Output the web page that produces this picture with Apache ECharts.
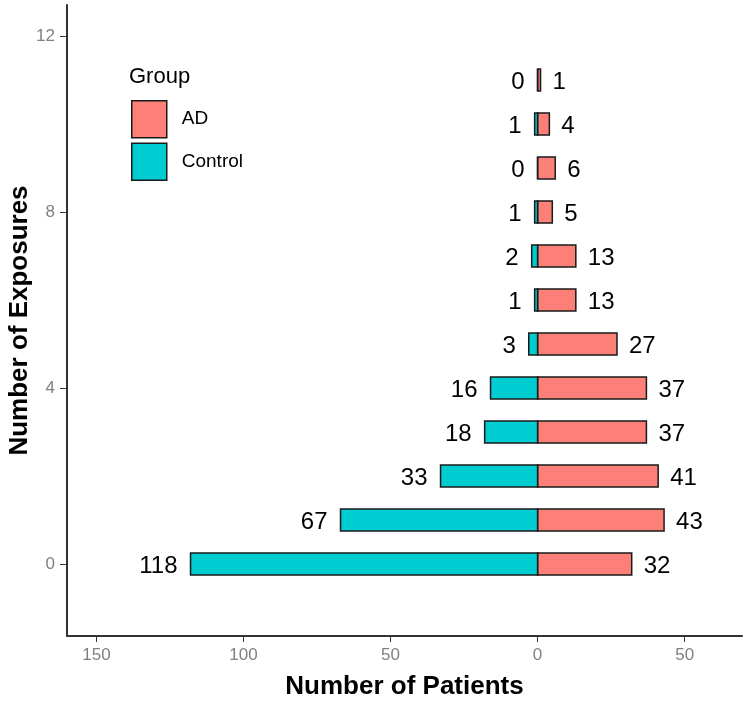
<!DOCTYPE html>
<html>
<head>
<meta charset="utf-8">
<script src="https://cdn.jsdelivr.net/npm/echarts@6/dist/echarts.min.js"></script>
<style>html,body{margin:0;padding:0;background:#fff}#c{width:750px;height:702px}</style>
</head>
<body>
<div id="c"></div>
<script>
var exposures = [0, 1, 2, 3, 4, 5, 6, 7, 8, 9, 10, 11];
var adCounts = [32, 43, 41, 37, 37, 27, 13, 13, 5, 6, 4, 1];
var controlCounts = [118, 67, 33, 18, 16, 3, 1, 2, 1, 0, 1, 0];
var xTicks = [-150, -100, -50, 0, 50];
var yTicks = [0, 4, 8, 12];

var AD_COLOR = '#FC8077';
var CTRL_COLOR = '#00CDD1';
var FONT = 'Liberation Sans, Arial, sans-serif';

function makeRender(side, color) {
  return function (params, api) {
    var y = api.value(0);
    var v = api.value(1);
    var p0 = api.coord([0, y]);
    var p1 = api.coord([v, y]);
    var h = api.size([0, 0.5])[1];
    var x0 = Math.min(p0[0], p1[0]);
    var w = Math.abs(p1[0] - p0[0]);
    var label = String(Math.abs(v));
    var tx = side === 'left' ? p1[0] - 13 : p1[0] + 12;
    return {
      type: 'group',
      children: [
        {
          type: 'rect',
          shape: { x: x0, y: p0[1] - h / 2, width: w, height: h },
          style: { fill: color, stroke: '#1a1a1a', lineWidth: 1.5 }
        },
        {
          type: 'text',
          style: {
            x: tx, y: p0[1] + 2, text: label,
            fill: '#000', font: '24px ' + FONT,
            align: side === 'left' ? 'right' : 'left', verticalAlign: 'middle'
          }
        }
      ]
    };
  };
}

var chart = echarts.init(document.getElementById('c'));
chart.setOption({
  animation: false,
  backgroundColor: '#fff',
  grid: { left: 67, right: 8, top: 5, bottom: 66, containLabel: false, outerBoundsMode: 'none' },
  graphic: [{
    type: 'text', left: 129, top: 66,
    style: { text: 'Group', font: '22px ' + FONT, fill: '#000' }
  }],
  legend: {
    data: ['AD', 'Control'],
    orient: 'vertical',
    left: 126, top: 95,
    itemWidth: 35, itemHeight: 37, itemGap: 4,
    icon: 'rect',
    itemStyle: { borderColor: '#1a1a1a', borderWidth: 1.5 },
    textStyle: { fontSize: 19, fontFamily: FONT, color: '#000', padding: [0, 0, 0, 10] }
  },
  xAxis: {
    type: 'value', min: -160, max: 69.5,
    name: 'Number of Patients', nameLocation: 'middle', nameGap: 38, nameMoveOverlap: false,
    nameTextStyle: { fontSize: 26, fontWeight: 'bold', fontFamily: FONT, color: '#000' },
    axisLine: { show: true, onZero: false, lineStyle: { color: '#333', width: 2 } },
    axisTick: { show: true, length: 6, customValues: xTicks, lineStyle: { color: '#333' } },
    axisLabel: { customValues: xTicks, color: '#808080', fontSize: 17, fontFamily: FONT, margin: 11,
      formatter: function (v) { return String(Math.abs(v)); } },
    splitLine: { show: false }
  },
  yAxis: {
    type: 'value', min: -1.636, max: 12.705,
    name: 'Number of Exposures', nameLocation: 'middle', nameGap: 34, nameRotate: 90, nameMoveOverlap: false,
    nameTextStyle: { fontSize: 26, fontWeight: 'bold', fontFamily: FONT, color: '#000' },
    axisLine: { show: true, onZero: false, lineStyle: { color: '#333', width: 2 } },
    axisTick: { show: true, length: 7, customValues: yTicks, lineStyle: { color: '#333' } },
    axisLabel: { customValues: yTicks, color: '#808080', fontSize: 17, fontFamily: FONT, margin: 12 },
    splitLine: { show: false }
  },
  series: [
    {
      name: 'AD', type: 'custom', coordinateSystem: 'cartesian2d',
      itemStyle: { color: AD_COLOR, borderColor: '#1a1a1a', borderWidth: 1.5 },
      encode: { x: 1, y: 0 },
      renderItem: makeRender('right', AD_COLOR),
      data: exposures.map(function (e, i) { return [e, adCounts[i]]; })
    },
    {
      name: 'Control', type: 'custom', coordinateSystem: 'cartesian2d',
      itemStyle: { color: CTRL_COLOR, borderColor: '#1a1a1a', borderWidth: 1.5 },
      encode: { x: 1, y: 0 },
      renderItem: makeRender('left', CTRL_COLOR),
      data: exposures.map(function (e, i) { return [e, -controlCounts[i]]; })
    }
  ]
});
</script>
</body>
</html>
